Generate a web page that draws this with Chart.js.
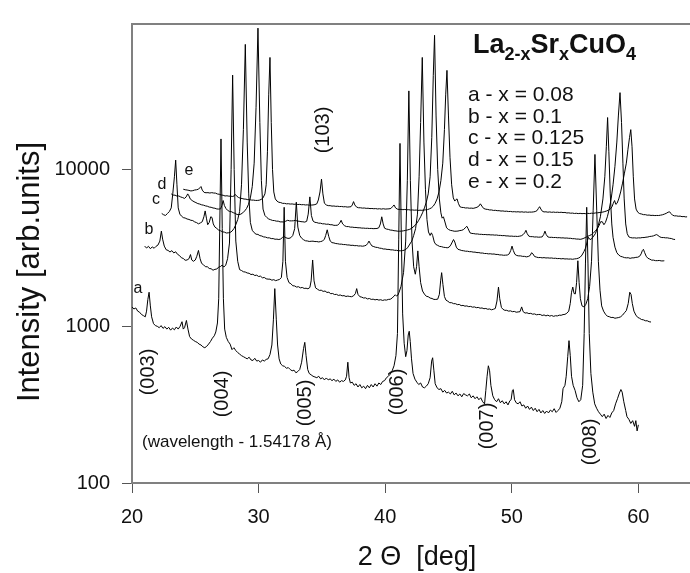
<!DOCTYPE html>
<html>
<head>
<meta charset="utf-8">
<script src="https://cdn.jsdelivr.net/npm/chart.js@4.4.1/dist/chart.umd.min.js"></script>
<style>
html,body{margin:0;padding:0;background:#fff;}
#c{display:block;}
</style>
</head>
<body>
<canvas id="c" width="690" height="573"></canvas>
<script>
// ---- Data: [2-theta (deg), intensity (arb. units)] ----
const curveA = [
[20.0,1330],[20.15,1290],[20.3,1310],[20.45,1250],[20.6,1230],[20.75,1190],[20.9,1170],[21.05,1150],[21.15,1250],[21.25,1480],[21.35,1650],[21.45,1350],[21.55,1150],[21.7,1040],[21.85,1010],[22.0,1000],[22.15,980],[22.3,1010],[22.45,970],[22.6,995],[22.75,960],[22.9,985],[23.05,945],[23.2,975],[23.35,950],[23.5,990],[23.65,960],[23.8,1000],[23.95,1070],[24.05,960],[24.15,980],[24.3,1090],[24.42,960],[24.55,860],[24.7,830],[24.85,815],[25.0,800],[25.15,790],[25.3,770],[25.45,760],[25.6,740],[25.75,730],[25.9,745],[26.05,770],[26.2,800],[26.35,840],[26.5,870],[26.62,920],[26.75,1050],[26.85,1500],[26.93,4200],[27.03,15700],[27.13,4200],[27.22,1500],[27.32,960],[27.45,850],[27.6,800],[27.75,770],[27.9,710],[28.05,730],[28.2,700],[28.35,680],[28.5,665],[28.65,650],[28.8,640],[28.95,630],[29.1,620],[29.25,635],[29.4,610],[29.55,605],[29.7,625],[29.85,600],[30.0,605],[30.15,590],[30.3,610],[30.45,600],[30.6,615],[30.75,620],[30.9,660],[31.05,760],[31.17,1100],[31.28,1740],[31.4,1100],[31.5,760],[31.62,620],[31.75,575],[31.9,560],[32.05,555],[32.2,540],[32.35,545],[32.5,530],[32.65,520],[32.8,525],[32.95,505],[33.1,515],[33.25,530],[33.4,590],[33.55,720],[33.65,790],[33.75,650],[33.88,530],[34.0,500],[34.15,490],[34.3,480],[34.45,475],[34.6,470],[34.75,480],[34.9,462],[35.05,470],[35.2,455],[35.35,468],[35.5,455],[35.65,462],[35.8,450],[35.95,460],[36.1,445],[36.25,455],[36.4,440],[36.55,450],[36.7,445],[36.85,455],[36.95,480],[37.05,590],[37.15,470],[37.25,435],[37.4,440],[37.55,420],[37.7,430],[37.85,410],[38.0,425],[38.15,405],[38.3,415],[38.45,400],[38.6,420],[38.75,405],[38.9,425],[39.05,410],[39.2,430],[39.35,415],[39.5,435],[39.65,425],[39.8,445],[39.95,450],[40.1,470],[40.25,480],[40.4,495],[40.55,520],[40.7,560],[40.85,650],[40.97,900],[41.07,3600],[41.17,14700],[41.27,4000],[41.38,1200],[41.5,780],[41.62,640],[41.72,700],[41.82,880],[41.9,930],[41.98,800],[42.08,620],[42.2,500],[42.35,460],[42.5,440],[42.65,425],[42.8,435],[42.95,410],[43.1,405],[43.25,415],[43.4,430],[43.55,470],[43.67,600],[43.75,630],[43.85,520],[43.95,430],[44.1,405],[44.25,395],[44.4,400],[44.55,380],[44.7,390],[44.85,375],[45.0,380],[45.15,370],[45.3,385],[45.45,365],[45.6,375],[45.75,360],[45.9,370],[46.05,355],[46.2,372],[46.35,365],[46.5,360],[46.65,370],[46.8,350],[46.95,360],[47.1,345],[47.25,355],[47.4,340],[47.55,350],[47.7,330],[47.85,320],[47.95,390],[48.05,480],[48.15,560],[48.25,520],[48.35,420],[48.5,360],[48.65,340],[48.8,330],[48.95,345],[49.1,325],[49.25,335],[49.4,320],[49.55,330],[49.7,315],[49.85,335],[49.95,340],[50.05,390],[50.12,395],[50.22,340],[50.35,325],[50.5,320],[50.65,330],[50.8,310],[50.95,315],[51.1,300],[51.25,310],[51.4,295],[51.55,305],[51.7,290],[51.85,300],[52.0,285],[52.15,295],[52.3,280],[52.45,290],[52.6,278],[52.75,288],[52.9,280],[53.05,292],[53.2,285],[53.35,298],[53.5,282],[53.65,290],[53.8,300],[53.95,330],[54.05,400],[54.2,420],[54.3,480],[54.42,640],[54.52,810],[54.62,650],[54.72,480],[54.85,420],[55.0,390],[55.15,350],[55.3,330],[55.45,340],[55.6,420],[55.72,900],[55.82,2500],[55.92,5750],[56.02,2500],[56.12,900],[56.25,500],[56.4,380],[56.55,320],[56.7,300],[56.85,285],[57.0,275],[57.15,265],[57.3,275],[57.45,258],[57.6,270],[57.75,262],[57.9,280],[58.05,290],[58.2,320],[58.35,345],[58.5,375],[58.62,395],[58.72,380],[58.85,330],[59.0,290],[59.1,265],[59.25,255],[59.4,240],[59.55,250],[59.7,230],[59.8,250],[59.9,215],[60.0,235]
];
const curveB = [
[21.0,3250],[21.15,3160],[21.3,3240],[21.45,3130],[21.6,3210],[21.75,3150],[21.9,3240],[22.05,3300],[22.2,3500],[22.32,4050],[22.42,3600],[22.55,3250],[22.7,3080],[22.85,3050],[23.0,2980],[23.15,3040],[23.3,2940],[23.45,2990],[23.6,2880],[23.75,2830],[23.9,2740],[24.05,2710],[24.2,2640],[24.35,2650],[24.5,2700],[24.62,2870],[24.72,2650],[24.85,2600],[25.0,2650],[25.12,2800],[25.25,3050],[25.38,2700],[25.5,2520],[25.65,2470],[25.8,2400],[25.95,2400],[26.1,2340],[26.25,2330],[26.4,2280],[26.55,2310],[26.7,2320],[26.85,2390],[27.0,2410],[27.12,2460],[27.25,2390],[27.4,2450],[27.55,2700],[27.7,3400],[27.83,10000],[27.95,40100],[28.07,10000],[28.2,3500],[28.35,2600],[28.5,2300],[28.65,2270],[28.8,2230],[28.95,2220],[29.1,2190],[29.25,2180],[29.4,2140],[29.55,2150],[29.7,2110],[29.85,2120],[30.0,2080],[30.15,2090],[30.3,2040],[30.45,2050],[30.6,2010],[30.75,2000],[30.9,2000],[31.05,1970],[31.2,1985],[31.35,1955],[31.5,1975],[31.65,1990],[31.8,2050],[31.92,2600],[32.02,5750],[32.12,2600],[32.25,2050],[32.4,1900],[32.55,1870],[32.7,1815],[32.85,1810],[33.0,1780],[33.15,1790],[33.3,1760],[33.45,1770],[33.6,1745],[33.75,1750],[33.9,1735],[34.05,1770],[34.15,1950],[34.27,2650],[34.38,1950],[34.5,1760],[34.65,1725],[34.8,1695],[34.95,1700],[35.1,1670],[35.25,1680],[35.4,1645],[35.55,1650],[35.7,1615],[35.85,1620],[36.0,1595],[36.15,1600],[36.3,1575],[36.45,1585],[36.6,1565],[36.75,1570],[36.9,1550],[37.05,1560],[37.2,1550],[37.35,1545],[37.5,1565],[37.65,1620],[37.75,1740],[37.85,1600],[38.0,1545],[38.15,1535],[38.3,1515],[38.45,1520],[38.6,1495],[38.75,1505],[38.9,1485],[39.05,1490],[39.2,1475],[39.35,1485],[39.5,1470],[39.65,1478],[39.8,1462],[39.95,1475],[40.1,1470],[40.25,1485],[40.4,1488],[40.55,1515],[40.7,1560],[40.8,1590],[40.9,1560],[41.0,1580],[41.1,1650],[41.25,1800],[41.45,2200],[41.62,3500],[41.75,8500],[41.87,31800],[41.99,8500],[42.12,3500],[42.25,2400],[42.38,2150],[42.48,2400],[42.58,3030],[42.68,2400],[42.8,1900],[42.95,1680],[43.1,1605],[43.25,1555],[43.4,1545],[43.55,1515],[43.7,1505],[43.85,1485],[44.0,1485],[44.15,1490],[44.28,1600],[44.38,1950],[44.46,2200],[44.56,1850],[44.68,1550],[44.8,1470],[44.95,1445],[45.1,1415],[45.25,1415],[45.4,1395],[45.55,1395],[45.7,1375],[45.85,1380],[46.0,1355],[46.15,1360],[46.3,1345],[46.45,1350],[46.6,1335],[46.75,1340],[46.9,1325],[47.05,1330],[47.2,1315],[47.35,1320],[47.5,1305],[47.65,1310],[47.8,1295],[47.95,1300],[48.1,1285],[48.25,1290],[48.4,1275],[48.55,1285],[48.7,1300],[48.83,1450],[48.95,1780],[49.05,1500],[49.18,1320],[49.3,1285],[49.45,1265],[49.6,1265],[49.75,1250],[49.9,1255],[50.05,1240],[50.2,1245],[50.35,1230],[50.5,1235],[50.65,1240],[50.78,1330],[50.9,1240],[51.05,1215],[51.2,1220],[51.35,1205],[51.5,1210],[51.65,1195],[51.8,1200],[51.95,1185],[52.1,1190],[52.25,1190],[52.4,1172],[52.55,1182],[52.7,1166],[52.85,1178],[53.0,1162],[53.15,1172],[53.3,1158],[53.45,1168],[53.6,1165],[53.75,1178],[53.9,1176],[54.05,1188],[54.2,1192],[54.35,1212],[54.5,1250],[54.62,1400],[54.72,1650],[54.82,1780],[54.92,1620],[55.02,1610],[55.12,1900],[55.22,2620],[55.32,1900],[55.42,1500],[55.55,1350],[55.7,1330],[55.85,1380],[56.0,1500],[56.15,1800],[56.3,2600],[56.43,5500],[56.57,12500],[56.71,5500],[56.84,2600],[56.97,1700],[57.1,1350],[57.25,1250],[57.4,1195],[57.55,1160],[57.7,1152],[57.85,1138],[58.0,1140],[58.15,1126],[58.3,1132],[58.45,1138],[58.6,1150],[58.75,1178],[58.9,1220],[59.05,1260],[59.2,1400],[59.32,1650],[59.42,1600],[59.52,1400],[59.65,1250],[59.8,1180],[59.95,1140],[60.1,1125],[60.25,1105],[60.4,1100],[60.55,1085],[60.7,1085],[60.85,1070],[61.0,1065]
];
const curveC = [
[22.35,5250],[22.5,5150],[22.65,5100],[22.8,5250],[22.95,5400],[23.1,5700],[23.22,7000],[23.35,9000],[23.45,11500],[23.55,8000],[23.65,5700],[23.78,5200],[23.9,5060],[24.05,4940],[24.2,4910],[24.35,4840],[24.5,4810],[24.65,4750],[24.8,4730],[24.95,4640],[25.1,4590],[25.25,4510],[25.4,4570],[25.55,4650],[25.68,5000],[25.78,5450],[25.88,4900],[25.98,4450],[26.1,4600],[26.22,5000],[26.32,4950],[26.42,4500],[26.55,4300],[26.7,4210],[26.85,4110],[27.0,4070],[27.15,4010],[27.3,3990],[27.45,3940],[27.6,3950],[27.75,3970],[27.9,4050],[28.05,4200],[28.2,4450],[28.35,4800],[28.5,5400],[28.65,8000],[28.8,18000],[28.95,63000],[29.1,15000],[29.22,7000],[29.35,4600],[29.5,4100],[29.65,3960],[29.8,3870],[29.95,3860],[30.1,3790],[30.25,3770],[30.4,3720],[30.55,3710],[30.7,3670],[30.85,3670],[31.0,3630],[31.15,3630],[31.3,3595],[31.45,3600],[31.6,3580],[31.75,3610],[31.9,3700],[32.0,3750],[32.1,3700],[32.25,3650],[32.4,3640],[32.55,3680],[32.7,3800],[32.85,4200],[32.98,6200],[33.1,4300],[33.25,3800],[33.4,3650],[33.55,3570],[33.7,3515],[33.85,3505],[34.0,3480],[34.15,3490],[34.3,3495],[34.45,3475],[34.6,3475],[34.75,3455],[34.9,3475],[35.05,3500],[35.2,3600],[35.3,3800],[35.42,4130],[35.54,3750],[35.66,3500],[35.8,3420],[35.95,3405],[36.1,3375],[36.25,3365],[36.4,3345],[36.55,3345],[36.7,3325],[36.85,3325],[37.0,3305],[37.15,3305],[37.3,3285],[37.45,3290],[37.6,3270],[37.75,3275],[37.9,3255],[38.05,3260],[38.2,3245],[38.35,3260],[38.5,3290],[38.62,3380],[38.72,3500],[38.82,3380],[38.95,3260],[39.1,3225],[39.25,3195],[39.4,3185],[39.55,3155],[39.7,3145],[39.85,3115],[40.0,3115],[40.15,3095],[40.3,3095],[40.45,3075],[40.6,3075],[40.75,3055],[40.9,3055],[41.05,3035],[41.2,3035],[41.35,3040],[41.5,3060],[41.65,3100],[41.8,3200],[41.95,3350],[42.1,3500],[42.25,3800],[42.4,4200],[42.55,5200],[42.68,9000],[42.8,20000],[42.93,52000],[43.06,15000],[43.18,7500],[43.3,4800],[43.42,4000],[43.55,3800],[43.65,3950],[43.75,3800],[43.88,3450],[44.0,3330],[44.15,3285],[44.3,3235],[44.45,3225],[44.6,3195],[44.75,3185],[44.9,3170],[45.05,3200],[45.18,3300],[45.3,3450],[45.4,3580],[45.5,3450],[45.62,3200],[45.75,3100],[45.9,3075],[46.05,3045],[46.2,3035],[46.35,3015],[46.5,3015],[46.65,2995],[46.8,2995],[46.95,2975],[47.1,2975],[47.25,2955],[47.4,2955],[47.55,2935],[47.7,2935],[47.85,2915],[48.0,2915],[48.15,2900],[48.3,2905],[48.45,2890],[48.6,2895],[48.75,2875],[48.9,2875],[49.05,2855],[49.2,2855],[49.35,2840],[49.5,2845],[49.65,2850],[49.8,2900],[49.92,3050],[50.02,3250],[50.12,3050],[50.25,2880],[50.4,2830],[50.55,2815],[50.7,2815],[50.85,2795],[51.0,2795],[51.15,2775],[51.3,2790],[51.45,2830],[51.57,2950],[51.67,2900],[51.8,2790],[51.95,2765],[52.1,2745],[52.25,2750],[52.4,2735],[52.55,2745],[52.7,2730],[52.85,2735],[53.0,2725],[53.15,2730],[53.3,2715],[53.45,2720],[53.6,2705],[53.75,2710],[53.9,2695],[54.05,2705],[54.2,2690],[54.35,2695],[54.5,2685],[54.65,2690],[54.8,2678],[54.95,2692],[55.1,2700],[55.25,2720],[55.4,2760],[55.55,2850],[55.7,3000],[55.82,3150],[55.95,3450],[56.05,3700],[56.15,3600],[56.25,3580],[56.4,3700],[56.6,3900],[56.8,4300],[57.0,5000],[57.2,6500],[57.35,9000],[57.47,14000],[57.57,21500],[57.67,13000],[57.78,7000],[57.9,4500],[58.0,3700],[58.15,3200],[58.3,2950],[58.45,2850],[58.6,2795],[58.75,2775],[58.9,2745],[59.05,2735],[59.2,2740],[59.35,2715],[59.5,2735],[59.65,2735],[59.8,2755],[59.95,2760],[60.1,2800],[60.22,2900],[60.32,3050],[60.4,3100],[60.5,2950],[60.62,2800],[60.75,2720],[60.9,2685],[61.05,2645],[61.2,2645],[61.35,2625],[61.5,2625],[61.65,2632],[61.8,2615],[61.95,2615],[62.05,2620]
];
const curveD = [
[23.1,7000],[23.25,6880],[23.4,6870],[23.55,6780],[23.7,6790],[23.85,6690],[24.0,6630],[24.15,6550],[24.28,6700],[24.4,7000],[24.5,6800],[24.6,6500],[24.75,6350],[24.9,6240],[25.05,6160],[25.2,6070],[25.35,6030],[25.5,5960],[25.65,5930],[25.8,5870],[25.95,5840],[26.1,5770],[26.25,5750],[26.4,5690],[26.55,5670],[26.7,5610],[26.85,5600],[27.0,5620],[27.1,5900],[27.2,6350],[27.3,5900],[27.42,5650],[27.55,5500],[27.7,5410],[27.85,5390],[28.0,5310],[28.15,5260],[28.3,5170],[28.45,5160],[28.6,5200],[28.75,5300],[28.9,5450],[29.05,5650],[29.2,6000],[29.35,6600],[29.5,7800],[29.65,11000],[29.8,25000],[29.95,80000],[30.1,20000],[30.22,8500],[30.35,5600],[30.5,5100],[30.65,4950],[30.8,4840],[30.95,4790],[31.1,4740],[31.25,4730],[31.4,4690],[31.55,4690],[31.7,4640],[31.85,4640],[32.0,4630],[32.15,4690],[32.3,4750],[32.45,4710],[32.6,4710],[32.75,4715],[32.9,4750],[33.05,4695],[33.2,4685],[33.35,4655],[33.5,4645],[33.65,4625],[33.8,4680],[33.92,5200],[34.05,6700],[34.17,5100],[34.3,4700],[34.45,4610],[34.6,4590],[34.75,4550],[34.9,4550],[35.05,4510],[35.2,4510],[35.35,4480],[35.5,4490],[35.65,4450],[35.8,4450],[35.95,4410],[36.1,4410],[36.25,4420],[36.4,4550],[36.52,4750],[36.64,4500],[36.8,4380],[36.95,4330],[37.1,4330],[37.25,4295],[37.4,4295],[37.55,4275],[37.7,4275],[37.85,4255],[38.0,4255],[38.15,4235],[38.3,4235],[38.45,4220],[38.6,4225],[38.75,4210],[38.9,4215],[39.05,4200],[39.2,4205],[39.35,4210],[39.5,4260],[39.62,4500],[39.73,5000],[39.84,4500],[39.95,4230],[40.1,4175],[40.25,4155],[40.4,4115],[40.55,4105],[40.7,4075],[40.85,4065],[41.0,4045],[41.15,4045],[41.3,4050],[41.45,4070],[41.6,4090],[41.75,4120],[41.9,4150],[42.05,4200],[42.2,4300],[42.35,4400],[42.5,4550],[42.65,4750],[42.8,5000],[42.95,5300],[43.1,5700],[43.25,6200],[43.4,7000],[43.55,9000],[43.68,16000],[43.8,40000],[43.9,72000],[44.02,22000],[44.15,10000],[44.28,6500],[44.4,5300],[44.5,4900],[44.6,5000],[44.7,4700],[44.85,4250],[45.0,4150],[45.15,4095],[45.3,4075],[45.45,4045],[45.6,4045],[45.75,4055],[45.9,4085],[46.05,4100],[46.2,4150],[46.32,4250],[46.45,4350],[46.55,4200],[46.7,3950],[46.85,3915],[47.0,3905],[47.15,3885],[47.3,3885],[47.45,3865],[47.6,3865],[47.75,3850],[47.9,3855],[48.05,3840],[48.2,3845],[48.35,3830],[48.5,3835],[48.65,3820],[48.8,3825],[48.95,3805],[49.1,3805],[49.25,3790],[49.4,3795],[49.55,3775],[49.7,3775],[49.85,3760],[50.0,3765],[50.15,3750],[50.3,3755],[50.45,3745],[50.6,3760],[50.75,3780],[50.9,3850],[51.02,3950],[51.12,4100],[51.22,3900],[51.35,3760],[51.5,3735],[51.65,3735],[51.8,3715],[51.95,3720],[52.1,3705],[52.25,3710],[52.4,3720],[52.52,3850],[52.62,4050],[52.72,3850],[52.85,3720],[53.0,3695],[53.15,3700],[53.3,3685],[53.45,3690],[53.6,3675],[53.75,3680],[53.9,3665],[54.05,3670],[54.2,3655],[54.35,3660],[54.5,3645],[54.65,3645],[54.8,3625],[54.95,3625],[55.1,3605],[55.25,3605],[55.4,3590],[55.55,3610],[55.7,3650],[55.85,3700],[56.0,3750],[56.15,3800],[56.3,3850],[56.45,3950],[56.6,4050],[56.75,4200],[56.9,4400],[57.02,4650],[57.15,4650],[57.28,4450],[57.4,4600],[57.55,5000],[57.7,5600],[57.85,6500],[58.0,8000],[58.15,10500],[58.3,15000],[58.42,22000],[58.55,31000],[58.67,20000],[58.78,11000],[58.88,6500],[59.0,4500],[59.12,3900],[59.25,3720],[59.4,3680],[59.55,3665],[59.7,3670],[59.85,3655],[60.0,3670],[60.15,3665],[60.3,3685],[60.45,3685],[60.6,3705],[60.75,3715],[60.9,3745],[61.05,3755],[61.2,3780],[61.32,3820],[61.45,3850],[61.55,3800],[61.7,3720],[61.85,3685],[62.0,3685],[62.15,3670],[62.3,3670],[62.45,3645],[62.6,3635],[62.75,3595],[62.9,3580]
];
const curveE = [
[24.05,7500],[24.2,7440],[24.35,7410],[24.5,7370],[24.65,7310],[24.8,7340],[24.95,7410],[25.1,7440],[25.25,7500],[25.35,7650],[25.45,7800],[25.55,7400],[25.7,7150],[25.85,7120],[26.0,7130],[26.15,7090],[26.3,7130],[26.45,7090],[26.6,7080],[26.75,6990],[26.9,6960],[27.05,6890],[27.2,6860],[27.35,6790],[27.5,6810],[27.65,6770],[27.8,6770],[27.95,6740],[28.05,6780],[28.15,6950],[28.25,6800],[28.4,6650],[28.55,6570],[28.7,6540],[28.85,6490],[29.0,6480],[29.15,6430],[29.3,6430],[29.45,6390],[29.6,6390],[29.75,6360],[29.9,6360],[30.05,6380],[30.2,6450],[30.35,6600],[30.5,7000],[30.6,8000],[30.7,13000],[30.8,30000],[30.9,52000],[31.0,20000],[31.1,10000],[31.2,7200],[31.32,6500],[31.45,6300],[31.6,6190],[31.75,6160],[31.9,6090],[32.05,6090],[32.2,6050],[32.35,6060],[32.5,6030],[32.65,6040],[32.8,6010],[32.95,6020],[33.1,5990],[33.25,6000],[33.4,5970],[33.55,5980],[33.7,5950],[33.85,5960],[34.0,5930],[34.15,5940],[34.3,5950],[34.45,5980],[34.6,6050],[34.72,6400],[34.85,7200],[34.97,8700],[35.08,7000],[35.2,6100],[35.35,5950],[35.5,5890],[35.65,5890],[35.8,5850],[35.95,5860],[36.1,5830],[36.25,5840],[36.4,5810],[36.55,5820],[36.7,5790],[36.85,5800],[37.0,5770],[37.15,5780],[37.3,5800],[37.4,5950],[37.5,6250],[37.6,5950],[37.75,5760],[37.9,5710],[38.05,5710],[38.2,5680],[38.35,5690],[38.5,5660],[38.65,5670],[38.8,5640],[38.95,5650],[39.1,5630],[39.25,5640],[39.4,5610],[39.55,5630],[39.7,5600],[39.85,5630],[40.0,5600],[40.15,5610],[40.3,5620],[40.45,5650],[40.58,5800],[40.7,5950],[40.82,5700],[40.95,5600],[41.1,5570],[41.25,5580],[41.4,5550],[41.55,5570],[41.7,5540],[41.85,5550],[42.0,5520],[42.15,5530],[42.3,5510],[42.45,5520],[42.6,5490],[42.75,5510],[42.9,5500],[43.05,5520],[43.2,5540],[43.35,5560],[43.5,5620],[43.65,5700],[43.8,5850],[43.95,6100],[44.1,6500],[44.25,7200],[44.4,8500],[44.55,11000],[44.68,18000],[44.78,30000],[44.88,43000],[45.0,22000],[45.12,12000],[45.25,8000],[45.38,6600],[45.5,6300],[45.6,6450],[45.68,6500],[45.78,6100],[45.9,5800],[46.05,5740],[46.2,5730],[46.35,5690],[46.5,5700],[46.65,5670],[46.8,5680],[46.95,5660],[47.1,5700],[47.25,5750],[47.4,5850],[47.52,6050],[47.64,5850],[47.78,5650],[47.95,5590],[48.1,5570],[48.25,5530],[48.4,5530],[48.55,5490],[48.7,5500],[48.85,5470],[49.0,5470],[49.15,5440],[49.3,5450],[49.45,5420],[49.6,5430],[49.75,5400],[49.9,5410],[50.05,5380],[50.2,5390],[50.35,5370],[50.5,5385],[50.65,5360],[50.8,5380],[50.95,5350],[51.1,5370],[51.25,5345],[51.4,5360],[51.55,5355],[51.7,5370],[51.85,5400],[52.0,5480],[52.1,5650],[52.2,5800],[52.3,5600],[52.42,5420],[52.55,5370],[52.7,5380],[52.85,5350],[53.0,5370],[53.15,5340],[53.3,5360],[53.45,5335],[53.6,5350],[53.75,5330],[53.9,5345],[54.05,5320],[54.2,5330],[54.35,5290],[54.5,5300],[54.65,5270],[54.8,5280],[54.95,5250],[55.1,5265],[55.25,5240],[55.4,5260],[55.55,5235],[55.7,5250],[55.85,5230],[56.0,5260],[56.15,5245],[56.3,5270],[56.45,5260],[56.6,5290],[56.75,5300],[56.9,5320],[57.05,5340],[57.2,5360],[57.35,5400],[57.5,5450],[57.65,5520],[57.8,5620],[57.92,5800],[58.02,6100],[58.12,6350],[58.22,6000],[58.32,6100],[58.45,6500],[58.6,7200],[58.75,8200],[58.9,9500],[59.05,11000],[59.18,13500],[59.3,16000],[59.4,18000],[59.5,14000],[59.6,9000],[59.7,6500],[59.82,5600],[59.95,5350],[60.1,5240],[60.25,5210],[60.4,5160],[60.55,5160],[60.7,5120],[60.85,5130],[61.0,5100],[61.15,5110],[61.3,5090],[61.45,5100],[61.6,5095],[61.75,5120],[61.9,5150],[62.05,5200],[62.2,5260],[62.35,5350],[62.47,5380],[62.57,5250],[62.7,5120],[62.85,5070],[63.0,5070],[63.15,5040],[63.3,5050],[63.45,5010],[63.6,5020],[63.75,4990],[63.85,5000]
];
const xTickValues = [20, 30, 40, 50, 60];
const yTickValues = [100, 1000, 10000];
const curveLetters = ['a', 'b', 'c', 'd', 'e'];
const compositions = ['a - x = 0.08', 'b - x = 0.1', 'c - x = 0.125', 'd - x = 0.15', 'e - x = 0.2'];
const peakLabels = ['(003)', '(004)', '(005)', '(006)', '(007)', '(008)', '(103)'];
const peakLabelTheta = [21.3, 27.15, 33.7, 40.95, 48.05, 56.2, 35.1];

// ---- Chart ----
const curves = [curveA, curveB, curveC, curveD, curveE];
const datasets = curves.map(c => ({
  data: c.map(p => ({x: p[0], y: p[1]})),
  borderColor: '#000',
  borderWidth: 1,
  pointRadius: 0,
  showLine: true,
  tension: 0,
  fill: false
}));

const FONT = '"Liberation Sans", Arial, sans-serif';

const textPlugin = {
  id: 'texts',
  afterDraw(chart) {
    const ctx = chart.ctx;
    const area = chart.chartArea;
    const xs = chart.scales.x;
    ctx.save();
    // top frame line
    ctx.strokeStyle = '#808080';
    ctx.lineWidth = 2;
    ctx.beginPath();
    ctx.moveTo(area.left, area.top);
    ctx.lineTo(area.right + 1, area.top);
    ctx.stroke();

    ctx.fillStyle = '#111';
    // axis titles
    ctx.font = '27px ' + FONT;
    ctx.textAlign = 'center';
    ctx.textBaseline = 'middle';
    ctx.fillText('2 \u0398  [deg]', 417, 558);
    ctx.save();
    ctx.translate(30, 272);
    ctx.rotate(-Math.PI / 2);
    ctx.font = '31px ' + FONT;
    ctx.fillText('Intensity [arb.units]', 0, 0);
    ctx.restore();

    // formula title
    let x = 473;
    const base = 53;
    const parts = [['La', 0], ['2-x', 1], ['Sr', 0], ['x', 1], ['CuO', 0], ['4', 1]];
    ctx.textAlign = 'left';
    ctx.textBaseline = 'alphabetic';
    parts.forEach(([t, sub]) => {
      ctx.font = 'bold ' + (sub ? 18 : 27) + 'px ' + FONT;
      ctx.fillText(t, x, sub ? base + 7 : base);
      x += ctx.measureText(t).width;
    });

    // compositions
    ctx.font = '21px ' + FONT;
    compositions.forEach((t, i) => ctx.fillText(t, 468, 101 + i * 21.7));

    // curve letters
    ctx.font = '16px ' + FONT;
    ctx.textAlign = 'center';
    ctx.textBaseline = 'middle';
    const letterPos = [[138, 289], [149, 230], [156, 200], [162, 185], [189, 171]];
    curveLetters.forEach((t, i) => ctx.fillText(t, letterPos[i][0], letterPos[i][1]));

    // wavelength note
    ctx.font = '17px ' + FONT;
    ctx.textAlign = 'left';
    ctx.textBaseline = 'alphabetic';
    ctx.fillText('(wavelength - 1.54178 \u00C5)', 142, 447);

    // peak labels (rotated)
    ctx.font = '20px ' + FONT;
    ctx.textAlign = 'center';
    ctx.textBaseline = 'middle';
    const labelY = [372, 394, 403, 392, 426, 442, 130];
    peakLabels.forEach((t, i) => {
      ctx.save();
      ctx.translate(xs.getPixelForValue(peakLabelTheta[i]), labelY[i]);
      ctx.rotate(-Math.PI / 2);
      ctx.fillText(t, 0, 0);
      ctx.restore();
    });
    ctx.restore();
  }
};

new Chart(document.getElementById('c'), {
  type: 'scatter',
  data: {datasets},
  options: {
    responsive: false,
    animation: false,
    layout: {padding: {top: 15, right: 1, left: 0, bottom: 0}},
    plugins: {legend: {display: false}, tooltip: {enabled: false}},
    scales: {
      x: {
        type: 'linear',
        min: 20, max: 64,
        afterBuildTicks: s => { s.ticks = xTickValues.map(v => ({value: v})); },
        afterFit: s => { s.height = 90; },
        grid: {drawOnChartArea: false, drawTicks: true, tickLength: 10, color: '#555', lineWidth: 1},
        border: {display: true, color: '#808080', width: 2},
        ticks: {color: '#111', font: {family: FONT, size: 20}, padding: 12, maxRotation: 0, callback: v => String(v)}
      },
      y: {
        type: 'logarithmic',
        min: 100, max: 85000,
        afterBuildTicks: s => { s.ticks = yTickValues.map(v => ({value: v})); },
        afterFit: s => { s.width = 132; },
        grid: {drawOnChartArea: false, drawTicks: true, tickLength: 10, color: '#555', lineWidth: 1},
        border: {display: true, color: '#808080', width: 2},
        ticks: {color: '#111', font: {family: FONT, size: 20}, padding: 12, callback: v => String(v)}
      }
    }
  },
  plugins: [textPlugin]
});
</script>
</body>
</html>
